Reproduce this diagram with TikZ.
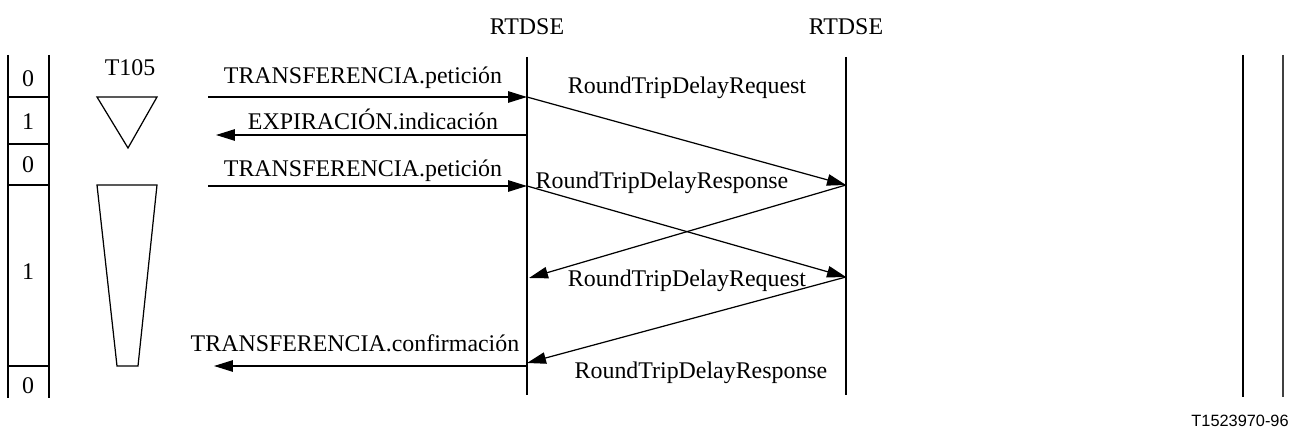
\documentclass[tikz,border=0pt]{standalone}
\usepackage{fontspec}
\setmainfont{Liberation Serif}
\setsansfont{Liberation Sans}
\usetikzlibrary{arrows.meta,positioning,calc}
\tikzset{
  lbl/.style={inner sep=1pt,font=\fontsize{13.6}{15}\selectfont},
  code/.style={inner sep=0pt,font=\sffamily\fontsize{9.3}{10}\selectfont},
  msg/.style={-{Triangle[length=3.8mm,width=2.3mm]},line width=0.7pt},
  life/.style={line width=0.7pt},
  timer/.style={draw,line width=0.7pt}
}

\begin{document}
\begin{tikzpicture}[x=0.02cm,y=-0.02cm]
\useasboundingbox (0,0) rectangle (1292,432);
% entities and lifelines
\node[lbl] (E1) at (527,27) {RTDSE};
\node[lbl] (E2) at (846,27) {RTDSE};
\coordinate (L1t) at (527,57);  \coordinate (L1b) at (527,395);
\coordinate (L2t) at (846,57);  \coordinate (L2b) at (846,395);
\draw[life] (L1t) -- (L1b);
\draw[life] (L2t) -- (L2b);
\draw[life] (1243,55) -- (1243,397);
\draw[life,black!75] (1283,55) -- (1283,397);
% state column
\draw[life] (8,55) -- (8,398);
\draw[life] (49,55) -- (49,398);
\draw[life] (8,97) -- (49,97);
\draw[life] (7,144) -- (49,144);
\draw[life] (8,185) -- (49,185);
\draw[life] (8,366) -- (49,366);
\node[lbl] (s1) at (28,79)  {0};
\node[lbl] (s2) at (28,122) {1};
\node[lbl] (s3) at (28,165) {0};
\node[lbl] (s4) at (28,272) {1};
\node[lbl] (s5) at (28,386) {0};
% timer T105
\node[lbl] (T) at (130,68) {T105};
\draw[timer] (97,97) -- (157,97) -- (128,148) -- cycle;
\draw[timer] (97,185) -- (157,185) -- (138,366) -- (117,366) -- cycle;
% message ends
\coordinate (u1) at (208,97);  \coordinate (v1) at (527,97);
\coordinate (u2) at (216,135); \coordinate (v2) at (527,135);
\coordinate (u3) at (208,186); \coordinate (v3) at (527,186);
\coordinate (u4) at (214,366); \coordinate (v4) at (527,366);
\coordinate (w1) at (846,185); \coordinate (w2) at (846,277);
\coordinate (r1) at (529,278); \coordinate (r2) at (527,363);
% primitives
\draw[msg] (u1) -- (v1);
\draw[msg] (v2) -- (u2);
\draw[msg] (u3) -- (v3);
\draw[msg] (v4) -- (u4);
\node[lbl] (p1) at (363,78)  {TRANSFERENCIA.petición};
\node[lbl] (p2) at (373,119) {EXPIRACIÓN.indicación};
\node[lbl] (p3) at (363,171) {TRANSFERENCIA.petición};
\node[lbl] (p4) at (355,343) {TRANSFERENCIA.confirmación};
% PDUs
\draw[msg] (v1) -- (w1);
\draw[msg] (w1) -- (r1);
\draw[msg] (v3) -- (w2);
\draw[msg] (w2) -- (r2);
\node[lbl] (q1) at (687,88)  {RoundTripDelayRequest};
\node[lbl] (q2) at (662,183) {RoundTripDelayResponse};
\node[lbl] (q3) at (687,281) {RoundTripDelayRequest};
\node[lbl] (q4) at (701,373) {RoundTripDelayResponse};
\node[code,anchor=east] (fig) at (1289,421) {T1523970-96};
\end{tikzpicture}
\end{document}
